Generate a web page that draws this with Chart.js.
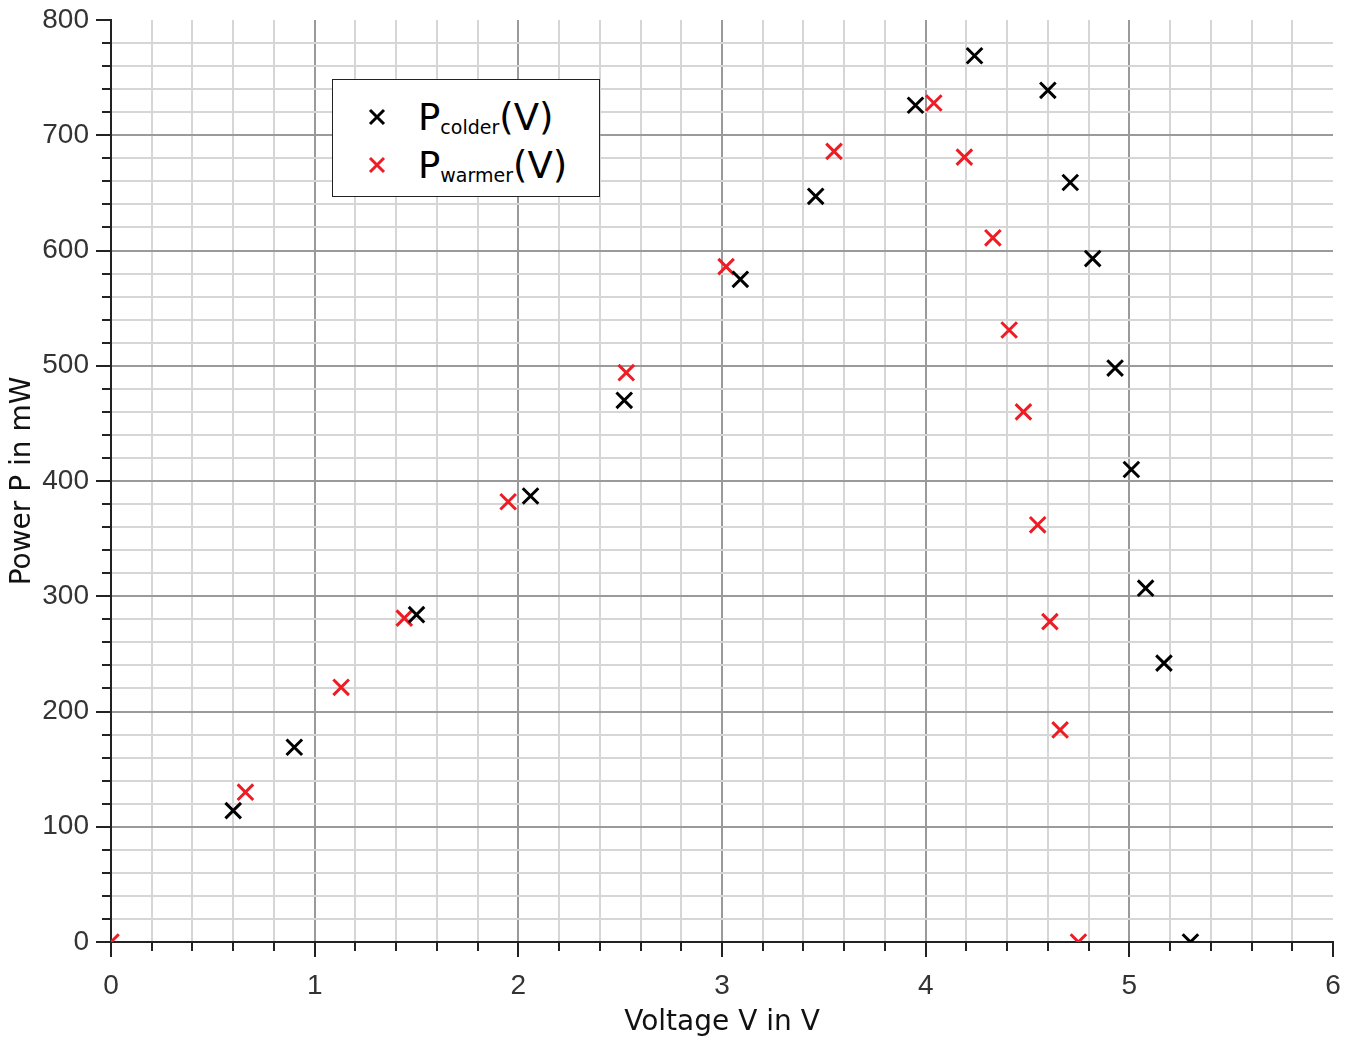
<!DOCTYPE html>
<html>
<head>
<meta charset="utf-8">
<script src="https://cdn.jsdelivr.net/npm/chart.js@4"></script>
<style>
  body { margin: 0; background: #fff; }
  #wrap { position: relative; width: 1354px; height: 1037px; overflow: hidden; }
  #legend {
    position: absolute; left: 332px; top: 79px; width: 266px; height: 116px;
    border: 1px solid #222; background: #fff;
    font-family: "DejaVu Sans", sans-serif; color: #000;
  }
  .row { position: absolute; left: 0; height: 48px; display: flex; align-items: center; }
  .row svg { margin-left: 35px; margin-right: 32px; }
  .big { font-size: 37px; line-height: 1; }
  .sub { font-size: 19px; position: relative; top: 10px; }
</style>
</head>
<body>
<div id="wrap">
  <canvas id="chart" width="1354" height="1037"></canvas>
  <div id="legend">
    <div class="row" style="top: 13px;">
      <svg width="18" height="18"><path d="M2 2L16 16M16 2L2 16" stroke="#000" stroke-width="3"/></svg>
      <span class="big">P</span><span class="sub">colder</span><span class="big">(V)</span>
    </div>
    <div class="row" style="top: 61px;">
      <svg width="18" height="18"><path d="M2 2L16 16M16 2L2 16" stroke="#ee1c24" stroke-width="3"/></svg>
      <span class="big">P</span><span class="sub">warmer</span><span class="big">(V)</span>
    </div>
  </div>
</div>
<script>
// measured values (voltage in V, power in mW)
const colderV = [0.60, 0.90, 1.50, 2.06, 2.52, 3.09, 3.46, 3.95, 4.24, 4.60, 4.71, 4.82, 4.93, 5.01, 5.08, 5.17, 5.30];
const colderP = [114, 169, 284, 387, 470, 575, 647, 726, 769, 739, 659, 593, 498, 410, 307, 242, 0];

const warmerV = [0.00, 0.66, 1.13, 1.44, 1.95, 2.53, 3.02, 3.55, 4.04, 4.19, 4.33, 4.41, 4.48, 4.55, 4.61, 4.66, 4.75];
const warmerP = [0, 130, 221, 281, 382, 494, 586, 686, 728, 681, 611, 531, 460, 362, 278, 184, 0];

const xTitle = "Voltage V in V";
const yTitle = "Power P in mW";

function toPoints(xs, ys) {
    return xs.map((x, i) => ({ x: x, y: ys[i] }));
}

function isWhole(v, step) {
    return Math.abs(v / step - Math.round(v / step)) < 1e-6;
}

const tickFont = { family: "Liberation Sans", size: 28 };
const titleFont = { family: "DejaVu Sans", size: 28 };

// no label overhang padding, the layout padding alone places the plot area
function fixSize(s) {
    s.paddingTop = 0;
    s.paddingBottom = 0;
    s.paddingLeft = 0;
    s.paddingRight = 0;
    if (s.isHorizontal()) s.height = 95;
    else s.width = 111;
}

// draws the outside tick marks: long ones on labelled values, short ones between
const tickMarks = {
    id: "tickMarks",
    afterDraw(chart) {
        const c = chart.ctx;
        const xs = chart.scales.x, ys = chart.scales.y;
        c.save();
        c.strokeStyle = "#222";
        c.lineWidth = 2;
        xs.ticks.forEach(t => {
            const px = Math.round(xs.getPixelForValue(t.value));
            const len = isWhole(t.value, 1) ? 15 : 9;
            c.beginPath();
            c.moveTo(px, ys.bottom);
            c.lineTo(px, ys.bottom + len);
            c.stroke();
        });
        ys.ticks.forEach(t => {
            const py = Math.round(ys.getPixelForValue(t.value));
            const len = isWhole(t.value, 100) ? 15 : 9;
            c.beginPath();
            c.moveTo(xs.left, py);
            c.lineTo(xs.left - len, py);
            c.stroke();
        });
        c.restore();
    }
};

const ctx = document.getElementById("chart").getContext("2d");
const chart = new Chart(ctx, {
    type: "scatter",
    data: {
        datasets: [
            {
                label: "colder",
                data: toPoints(colderV, colderP),
                pointStyle: "crossRot",
                pointRadius: 11,
                pointBorderWidth: 3,
                borderColor: "#000",
                backgroundColor: "#000",
                clip: 0
            },
            {
                label: "warmer",
                data: toPoints(warmerV, warmerP),
                pointStyle: "crossRot",
                pointRadius: 11,
                pointBorderWidth: 3,
                borderColor: "#ee1c24",
                backgroundColor: "#ee1c24",
                clip: 0
            }
        ]
    },
    options: {
        responsive: false,
        animation: false,
        layout: { autoPadding: false, padding: { top: 20, right: 21, left: 0, bottom: 0 } },
        plugins: {
            legend: { display: false },
            tooltip: { enabled: false }
        },
        scales: {
            x: {
                type: "linear",
                min: 0,
                max: 6,
                afterFit: fixSize,
                ticks: {
                    stepSize: 0.2,
                    autoSkip: false,
                    maxRotation: 0,
                    padding: 27,
                    color: "#333",
                    font: tickFont,
                    callback: v => isWhole(v, 1) ? String(Math.round(v)) : ""
                },
                grid: {
                    drawTicks: false,
                    lineWidth: 2,
                    color: c => {
                        const v = c.tick ? c.tick.value : 0;
                        if (v >= 6) return "rgba(0,0,0,0)";
                        return isWhole(v, 1) ? "#9a9a9a" : "#d6d6d6";
                    }
                },
                border: { color: "#222", width: 2 },
                title: {
                    display: true,
                    text: xTitle,
                    color: "#111",
                    font: titleFont,
                    padding: { top: 0, bottom: -3 }
                }
            },
            y: {
                type: "linear",
                min: 0,
                max: 800,
                afterFit: fixSize,
                ticks: {
                    stepSize: 20,
                    autoSkip: false,
                    padding: 22,
                    color: "#333",
                    font: tickFont,
                    callback: v => isWhole(v, 100) ? String(Math.round(v)) : ""
                },
                grid: {
                    drawTicks: false,
                    lineWidth: 2,
                    color: c => {
                        const v = c.tick ? c.tick.value : 0;
                        if (v >= 800) return "rgba(0,0,0,0)";
                        return isWhole(v, 100) ? "#9a9a9a" : "#d6d6d6";
                    }
                },
                border: { color: "#222", width: 2 },
                title: {
                    display: true,
                    text: yTitle,
                    color: "#111",
                    font: titleFont,
                    padding: { top: 6, bottom: 0 }
                }
            }
        }
    },
    plugins: [tickMarks]
});
</script>
</body>
</html>
